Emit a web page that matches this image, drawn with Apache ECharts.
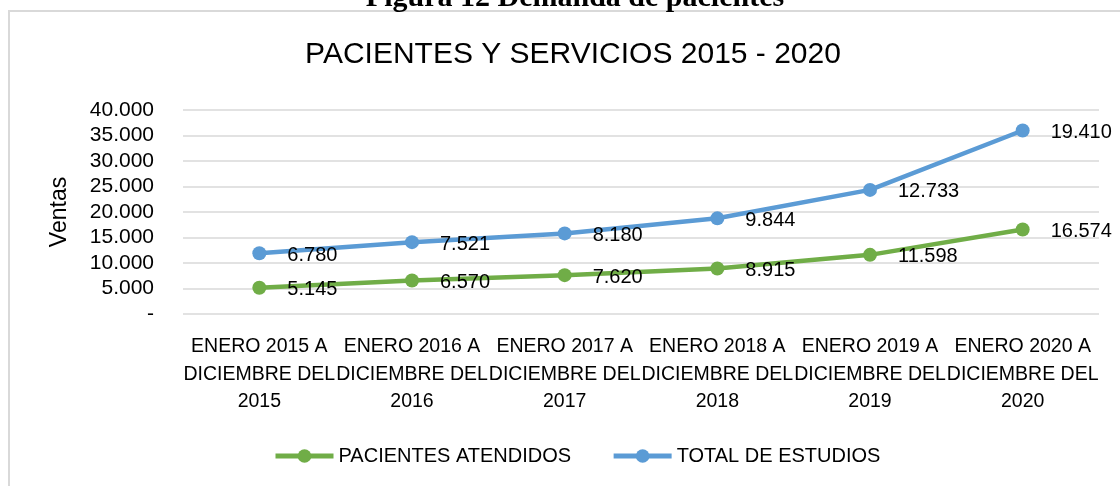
<!DOCTYPE html>
<html>
<head>
<meta charset="utf-8">
<style>html,body{margin:0;padding:0;background:#fff;}#c{width:1120px;height:486px;}</style>
<script src="https://cdn.jsdelivr.net/npm/echarts@6/dist/echarts.min.js"></script>
</head>
<body>
<div id="c"></div>
<script>
const categories = [
  "ENERO 2015 A\nDICIEMBRE DEL\n2015",
  "ENERO 2016 A\nDICIEMBRE DEL\n2016",
  "ENERO 2017 A\nDICIEMBRE DEL\n2017",
  "ENERO 2018 A\nDICIEMBRE DEL\n2018",
  "ENERO 2019 A\nDICIEMBRE DEL\n2019",
  "ENERO 2020 A\nDICIEMBRE DEL\n2020"
];
const pacientesAtendidos = [5145, 6570, 7620, 8915, 11598, 16574];
const totalEstudios = [6780, 7521, 8180, 9844, 12733, 19410];
const seriesNames = ["PACIENTES ATENDIDOS", "TOTAL DE ESTUDIOS"];
const yTicks = [0, 5000, 10000, 15000, 20000, 25000, 30000, 35000, 40000];

const FONT = "'Liberation Sans', Arial, sans-serif";
function fmt(v) {
  if (v === 0) return "-";
  return String(v).replace(/\B(?=(\d{3})+(?!\d))/g, ".");
}
const chart = echarts.init(document.getElementById('c'), null, {renderer: 'canvas'});
const lbl = {
  show: true, position: 'right', distance: 21, offset: [0, 2],
  color: '#000', fontFamily: FONT, fontSize: 20,
  formatter: p => fmt(p.value)
};
chart.setOption({
  animation: false,
  backgroundColor: '#fff',
  graphic: [
    {type: 'rect', shape: {x: 9, y: 11, width: 1140, height: 500}, style: {fill: 'none', stroke: '#d9d9d9', lineWidth: 2}, z: -1},
    {type: 'text', x: 575, y: -2, style: {text: 'Figura 12 Demanda de pacientes', x: 0, y: 0, align: 'center', verticalAlign: 'middle', font: "bold 30px 'Liberation Serif', serif", fill: '#000'}}
  ],
  title: {
    text: 'PACIENTES Y SERVICIOS 2015 - 2020',
    left: 568, textAlign: 'center', top: 35,
    textStyle: {fontFamily: FONT, fontWeight: 'normal', fontSize: 30, color: '#000'}
  },
  legend: {
    bottom: 15, left: 268, itemGap: 40, itemWidth: 58, itemHeight: 17,
    textStyle: {fontFamily: FONT, fontSize: 20, color: '#000'},
    lineStyle: {width: 5},
    data: seriesNames
  },
  grid: {left: 183, right: 21, top: 110, bottom: 172},
  xAxis: {
    type: 'category', data: categories, boundaryGap: true,
    axisLine: {show: false}, axisTick: {show: false},
    axisLabel: {interval: 0, color: '#000', fontFamily: FONT, fontSize: 19.5, lineHeight: 27.5, margin: 19}
  },
  yAxis: {
    type: 'value', min: yTicks[0], max: yTicks[yTicks.length - 1], interval: 5000,
    name: 'Ventas', nameLocation: 'middle', nameGap: 112, nameRotate: 90,
    nameTextStyle: {fontFamily: FONT, fontSize: 23, color: '#000'},
    axisLine: {show: false}, axisTick: {show: false},
    axisLabel: {color: '#000', fontFamily: FONT, fontSize: 21, margin: 29, formatter: fmt},
    splitLine: {lineStyle: {color: '#d9d9d9', width: 1.5}}
  },
  series: [
    {name: seriesNames[0], type: 'line', stack: 'total', data: pacientesAtendidos,
     symbol: 'circle', symbolSize: 14, lineStyle: {width: 4.5, color: '#70AD47'},
     itemStyle: {color: '#70AD47'}, label: lbl},
    {name: seriesNames[1], type: 'line', stack: 'total', data: totalEstudios,
     symbol: 'circle', symbolSize: 14, lineStyle: {width: 4.5, color: '#5B9BD5'},
     itemStyle: {color: '#5B9BD5'}, label: lbl}
  ]
});
</script>
</body>
</html>
